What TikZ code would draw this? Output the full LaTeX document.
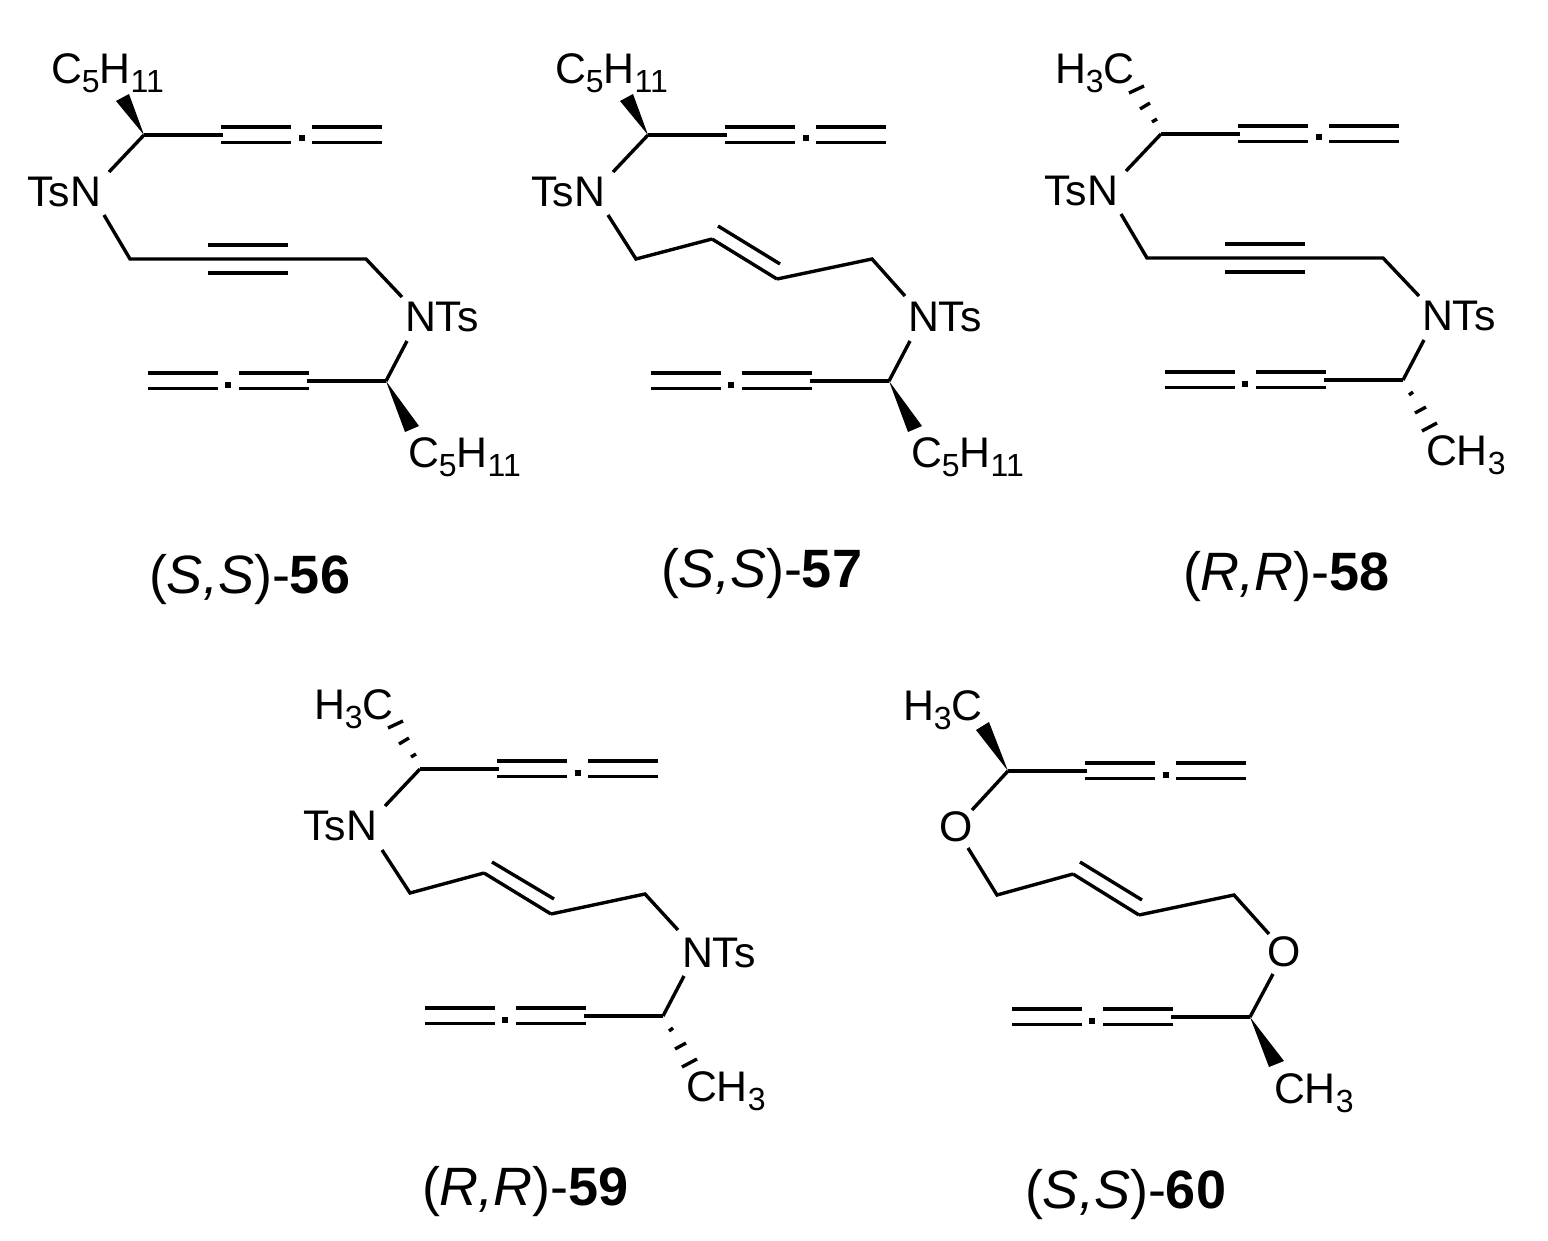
\documentclass[tikz,border=0pt]{standalone}
\usepackage{fontspec}
\setmainfont{Liberation Sans}
\usetikzlibrary{calc}
\tikzset{
  bond/.style={line width=1.7pt,line join=miter,line cap=butt,black},
  atom/.style={inner sep=0pt,outer sep=0pt,text=black,font=\fontsize{21.4}{24}\selectfont},
  caption/.style={inner sep=0pt,outer sep=0pt,anchor=base west,text=black,font=\fontsize{27}{30}\selectfont},
  dotmark/.style={fill=black,inner sep=0pt,minimum size=3pt,rectangle}
}
\newcommand\subs[1]{\raisebox{-4.5pt}{\fontsize{16}{16}\selectfont #1}}
% allene unit: id, star x, star y, direction
\newcommand\alleneunit[4]{%
  \begin{scope}[shift={(#2,#3)}]
    \coordinate (#1c) at (0,0);
    \coordinate (#1e) at ({#4*79},0);
    \coordinate (#1pa) at ({#4*77},-8);
    \coordinate (#1pb) at ({#4*147},-8);
    \coordinate (#1qa) at ({#4*77},7.5);
    \coordinate (#1qb) at ({#4*147},7.5);
    \coordinate (#1ra) at ({#4*168},-8);
    \coordinate (#1rb) at ({#4*238},-8);
    \coordinate (#1sa) at ({#4*168},7.5);
    \coordinate (#1sb) at ({#4*238},7.5);
    \node[dotmark] (#1d) at ({#4*158},3.5) {};
    \draw[bond] (#1c) -- (#1e);
    \draw[bond] (#1pa) -- (#1pb);
    \draw[bond] (#1qa) -- (#1qb);
    \draw[bond] (#1ra) -- (#1rb);
    \draw[bond] (#1sa) -- (#1sb);
  \end{scope}}
% TsN on upper unit, NTs on lower unit
\newcommand\upperN[1]{%
  \node[atom,anchor=base east] (#1N) at ($(#1c)+(-43,71.5)$) {TsN};
  \coordinate (#1Na) at ($(#1c)+(-35,37)$);
  \draw[bond] (#1c) -- (#1Na);}
\newcommand\lowerN[1]{%
  \node[atom,anchor=base west] (#1N) at ($(#1c)+(19,-49)$) {NTs};
  \coordinate (#1Na) at ($(#1c)+(21,-40)$);
  \draw[bond] (#1c) -- (#1Na);}
% wedge: star, two base corners
\newcommand\wedgebond[5]{%
  \fill[black] (#1) -- ($(#1)+(#2,#3)$) -- ($(#1)+(#4,#5)$) -- cycle;}
\newcommand\hashup[1]{%
  \draw[bond] ($(#1)+(-9,-12)$) -- ($(#1)+(-4,-15)$);
  \draw[bond] ($(#1)+(-21,-25)$) -- ($(#1)+(-11,-31)$);
  \draw[bond] ($(#1)+(-32,-41)$) -- ($(#1)+(-17,-48)$);}
\newcommand\hashdown[1]{%
  \draw[bond] ($(#1)+(6,15)$) -- ($(#1)+(10,12)$);
  \draw[bond] ($(#1)+(12,33)$) -- ($(#1)+(23,27)$);
  \draw[bond] ($(#1)+(19,51)$) -- ($(#1)+(34,43)$);}
% butene chain: id, four chain points, two inner-bond points, ends at labels
\newcommand\butene[7]{%
  \coordinate (#1ca) at (#2); \coordinate (#1cb) at (#3);
  \coordinate (#1cc) at (#4); \coordinate (#1cd) at (#5);
  \coordinate (#1ia) at (#6); \coordinate (#1ib) at (#7);
  \draw[bond] (#1cb) -- (#1cc);
  \draw[bond] (#1ia) -- (#1ib);}
\begin{document}
\begin{tikzpicture}[x=.5pt,y=-.5pt]
\useasboundingbox (0,0) rectangle (1548,1241);
\fill[white] (0,0) rectangle (1548,1241);

% ---------- 56
\alleneunit{au}{144}{135}{1}
\alleneunit{al}{386}{381}{-1}
\upperN{au}
\lowerN{al}
\wedgebond{auc}{-28}{-34}{-15}{-41}
\wedgebond{alc}{19}{51}{33}{45}
\node[atom,anchor=base west] (aus) at (51,84) {C\subs{5}H\subs{11}};
\node[atom,anchor=base west] (als) at (408,467) {C\subs{5}H\subs{11}};
\coordinate (aa) at (104,215); \coordinate (ab) at (130,259);
\coordinate (ac) at (366,259); \coordinate (ad) at (402,297);
\coordinate (ae) at (208,245); \coordinate (af) at (288,245);
\coordinate (ag) at (208,273); \coordinate (ah) at (288,273);
\draw[bond] (aa) -- (ab) -- (ac) -- (ad);
\draw[bond] (ae) -- (af);
\draw[bond] (ag) -- (ah);
\node[caption] (acap) at (149,593) {(\textit{S,S})-\textbf{56}};

% ---------- 57
\alleneunit{bu}{648}{135}{1}
\alleneunit{bl}{889}{381}{-1}
\upperN{bu}
\lowerN{bl}
\wedgebond{buc}{-28}{-34}{-15}{-41}
\wedgebond{blc}{19}{51}{33}{45}
\node[atom,anchor=base west] (bus) at (555,84) {C\subs{5}H\subs{11}};
\node[atom,anchor=base west] (bls) at (911,467) {C\subs{5}H\subs{11}};
\butene{b}{636,259}{712,239}{777,279}{872,259}{718,226}{780,264}
\coordinate (ba) at (608,215); \coordinate (bb) at (905,296);
\draw[bond] (ba) -- (bca) -- (bcb);
\draw[bond] (bcc) -- (bcd) -- (bb);
\node[caption] (bcap) at (661,587) {(\textit{S,S})-\textbf{57}};

% ---------- 58
\alleneunit{cu}{1161}{134}{1}
\alleneunit{cl}{1403}{380}{-1}
\upperN{cu}
\lowerN{cl}
\hashup{cuc}
\hashdown{clc}
\node[atom,anchor=base west] (cus) at (1055,84) {H\subs{3}C};
\node[atom,anchor=base west] (cls) at (1426,466) {CH\subs{3}};
\coordinate (ca) at (1121,214); \coordinate (cb) at (1147,258);
\coordinate (cc) at (1383,258); \coordinate (cd) at (1419,296);
\coordinate (ce) at (1225,244); \coordinate (cf) at (1305,244);
\coordinate (cg) at (1225,272); \coordinate (ch) at (1305,272);
\draw[bond] (ca) -- (cb) -- (cc) -- (cd);
\draw[bond] (ce) -- (cf);
\draw[bond] (cg) -- (ch);
\node[caption] (ccap) at (1183,590) {(\textit{R,R})-\textbf{58}};

% ---------- 59
\alleneunit{du}{420}{769}{1}
\alleneunit{dl}{663}{1016}{-1}
\upperN{du}
\lowerN{dl}
\hashup{duc}
\hashdown{dlc}
\node[atom,anchor=base west] (dus) at (314,719) {H\subs{3}C};
\node[atom,anchor=base west] (dls) at (686,1101) {CH\subs{3}};
\butene{d}{410,893}{484,873}{551,914}{645,894}{492,862}{554,899}
\coordinate (da) at (382,850); \coordinate (db) at (678,930);
\draw[bond] (da) -- (dca) -- (dcb);
\draw[bond] (dcc) -- (dcd) -- (db);
\node[caption] (dcap) at (422,1205) {(\textit{R,R})-\textbf{59}};

% ---------- 60
\alleneunit{eu}{1008}{771}{1}
\alleneunit{el}{1250}{1017}{-1}
\wedgebond{euc}{-32}{-41}{-19}{-49}
\wedgebond{elc}{19}{50}{34}{44}
\node[atom,anchor=base west] (eus) at (903,720) {H\subs{3}C};
\node[atom,anchor=base west] (els) at (1274,1103) {CH\subs{3}};
\node[atom] (eon) at (956,827) {O};
\node[atom] (eos) at (1284,952) {O};
\coordinate (ep) at (972,810); \coordinate (eq) at (968,848);
\coordinate (er) at (1269,934); \coordinate (es) at (1273,974);
\draw[bond] (euc) -- (ep);
\draw[bond] (elc) -- (es);
\butene{e}{997,895}{1073,874}{1139,915}{1234,895}{1080,862}{1142,900}
\draw[bond] (eq) -- (eca) -- (ecb);
\draw[bond] (ecc) -- (ecd) -- (er);
\node[caption] (ecap) at (1025,1208) {(\textit{S,S})-\textbf{60}};
\end{tikzpicture}
\end{document}
